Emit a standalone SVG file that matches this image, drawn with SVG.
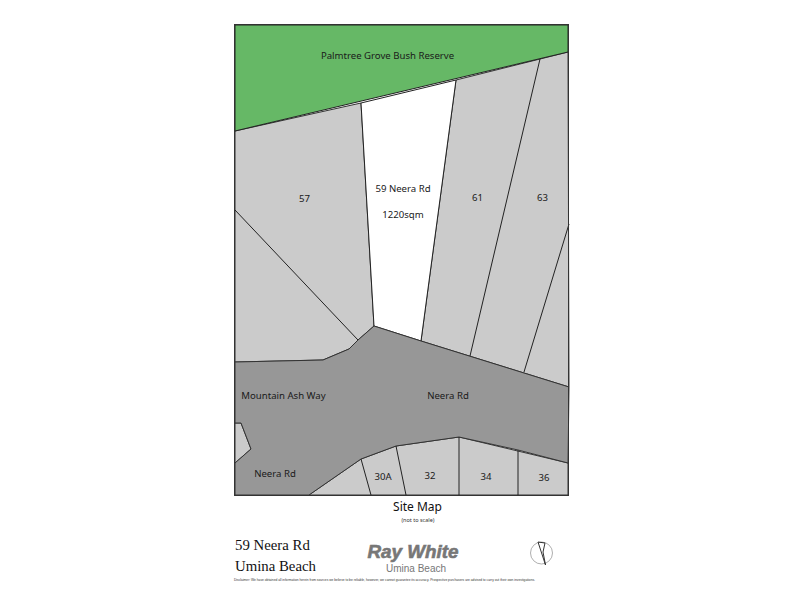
<svg xmlns="http://www.w3.org/2000/svg" width="800" height="600" viewBox="0 0 800 600">
<style>
.lot{fill:#cbcbcb;stroke:#333;stroke-width:1}
.ln{fill:none;stroke:#222;stroke-width:1}
.t{font-family:"Noto Sans","DejaVu Sans",sans-serif;font-size:9.600px;fill:#1a1a1a;text-anchor:middle}
.s{font-family:"Liberation Serif",serif;font-size:14.800px;fill:#111}
</style>
<rect width="800" height="600" fill="#fff"/>
<g id="lots-north">
<polygon class="lot" points="235,131 361,103 374,326 358,340 349,349 323,360 235,362"/>
<polygon class="lot" points="456,80 568,52 569,387 421,341"/>
</g>
<g id="lots-south">
<polygon class="lot" points="235,423 241,423 251,449 235,463"/>
<polygon class="lot" points="309,495 361,459 396,446 459,437 568,463 568,495"/>
</g>
<g id="reserve"><polygon points="235,25 568,25 568,52 235,131" fill="#66b866" stroke="#222"/><text class="t" x="387.500" y="59">Palmtree Grove Bush Reserve</text></g>
<g id="subject"><polygon points="361,103 456,80 421,341 374,326" fill="#fff" stroke="#222"/><text class="t" x="403" y="192">59 Neera Rd</text><text class="t" x="403" y="218">1220sqm</text></g>
<g id="road"><polygon points="235,362 323,360 349,349 358,340 374,326 421,341 569,387 568,463 518,450 459,437 396,446 361,459 309,495 235,495 235,463 251,449 241,423 235,423" fill="#979797" stroke="#333"/></g>
<g id="connectors">
<path class="ln" d="M235,210L358,340M540,59L470,356M569,224L524,372M361,459L371,495M396,446L406,495M459,437V495M518,450V495"/>
<rect x="234.500" y="24.500" width="334" height="471" fill="none" stroke="#333"/>
</g>
<g id="labels">
<text class="t" x="304.500" y="202">57</text><text class="t" x="477.500" y="201">61</text><text class="t" x="542.500" y="201">63</text>
<text class="t" x="283.500" y="399">Mountain Ash Way</text><text class="t" x="448" y="399">Neera Rd</text><text class="t" x="275" y="477">Neera Rd</text>
<text class="t" x="383" y="480">30A</text><text class="t" x="430" y="479">32</text><text class="t" x="486" y="480">34</text><text class="t" x="544" y="481">36</text>
</g>
<g id="title">
<text x="417.500" y="511" style="font-family:'Noto Sans','DejaVu Sans',sans-serif;font-size:12px;text-anchor:middle;fill:#111">Site Map</text>
<text x="418" y="522" style="font-family:'Noto Sans','DejaVu Sans',sans-serif;font-size:5.500px;text-anchor:middle;fill:#333">(not to scale)</text>
<text class="s" x="235" y="550">59 Neera Rd</text><text class="s" x="235" y="571">Umina Beach</text>
<text x="367.500" y="558" style="font-family:'Liberation Sans',sans-serif;font-weight:700;font-style:italic;font-size:18px;fill:#777;stroke:#777;stroke-width:.6" textLength="91" lengthAdjust="spacingAndGlyphs">Ray White</text>
<text x="416" y="572" style="font-family:'Liberation Sans',sans-serif;font-size:10px;text-anchor:middle;fill:#777">Umina Beach</text>
<text x="234" y="581" style="font-family:'Liberation Sans',sans-serif;font-size:3.500px;fill:#333" textLength="301" lengthAdjust="spacingAndGlyphs">Disclaimer: We have obtained all information herein from sources we believe to be reliable, however, we cannot guarantee its accuracy. Prospective purchasers are advised to carry out their own investigations.</text>
</g>
<g id="north-arrow">
<circle cx="541.500" cy="553" r="11" fill="none" stroke="#999" stroke-width=".8"/>
<path d="M538,542L545,543L543,552L545.500,565Z" fill="none" stroke="#333" stroke-width="1"/>
</g>
</svg>
